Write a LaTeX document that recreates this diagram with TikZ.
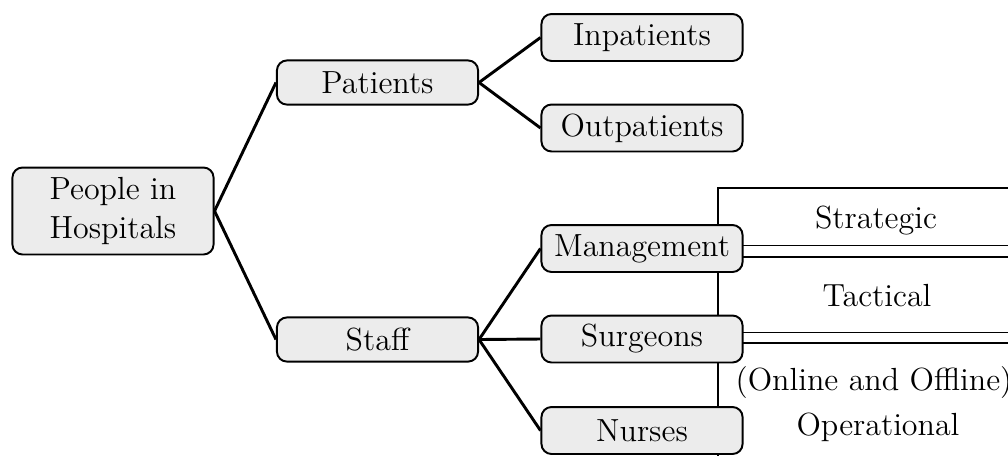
\documentclass[tikz,border=0pt]{standalone}
\usetikzlibrary{positioning}
\begin{document}
\begin{tikzpicture}[x=0.36pt, y=-0.36pt,
  font=\fontsize{11.52}{13.8}\selectfont,
  box/.style={draw, line width=0.7pt, fill=gray!15, rounded corners=3.6pt,
    minimum width=72.4pt, inner sep=1pt, align=center},
  midbox/.style={box, minimum height=15.9pt},
  leafbox/.style={box, minimum height=16.9pt},
  link/.style={line width=1.05pt},
  lane/.style={line width=0.7pt},
  lanetext/.style={anchor=base, inner sep=0pt}]
  \useasboundingbox (0,0) rectangle (1008,455);
  \clip (0,0) rectangle (1008,455);

  % decision levels, drawn behind the boxes
  \coordinate (s1) at (718,188);   \coordinate (s2) at (1040,245.5);
  \coordinate (t1) at (718,256.7); \coordinate (t2) at (1040,332.5);
  \coordinate (o1) at (718,342.7); \coordinate (o2) at (1040,480);
  \draw[lane] (s1) rectangle (s2);
  \draw[lane] (t1) rectangle (t2);
  \draw[lane] (o1) rectangle (o2);
  \node[lanetext] (strategic) at (876,228.3) {Strategic};
  \node[lanetext] (tactical) at (877,306.7) {Tactical};
  \node[lanetext] (onoff) at (874,390) {(Online and Offline)};
  \node[lanetext] (operational) at (878,435) {Operational};

  % tree
  \node[box, minimum height=31.3pt] (root) at (113,211) {People in\\Hospitals};
  \node[midbox] (patients) at (377.5,82.5) {Patients};
  \node[midbox] (staff) at (377.5,339.5) {Staff};
  \node[leafbox] (inpat) at (642,37.5) {Inpatients};
  \node[leafbox] (outpat) at (642,128) {Outpatients};
  \node[leafbox] (mgmt) at (642,248.5) {Management};
  \node[leafbox] (surg) at (642,339) {Surgeons};
  \node[leafbox] (nurses) at (642,430.5) {Nurses};

  \draw[link] (root.east) -- (patients.west);
  \draw[link] (root.east) -- (staff.west);
  \draw[link] (patients.east) -- (inpat.west);
  \draw[link] (patients.east) -- (outpat.west);
  \draw[link] (staff.east) -- (mgmt.west);
  \draw[link] (staff.east) -- (surg.west);
  \draw[link] (staff.east) -- (nurses.west);
\end{tikzpicture}
\end{document}
